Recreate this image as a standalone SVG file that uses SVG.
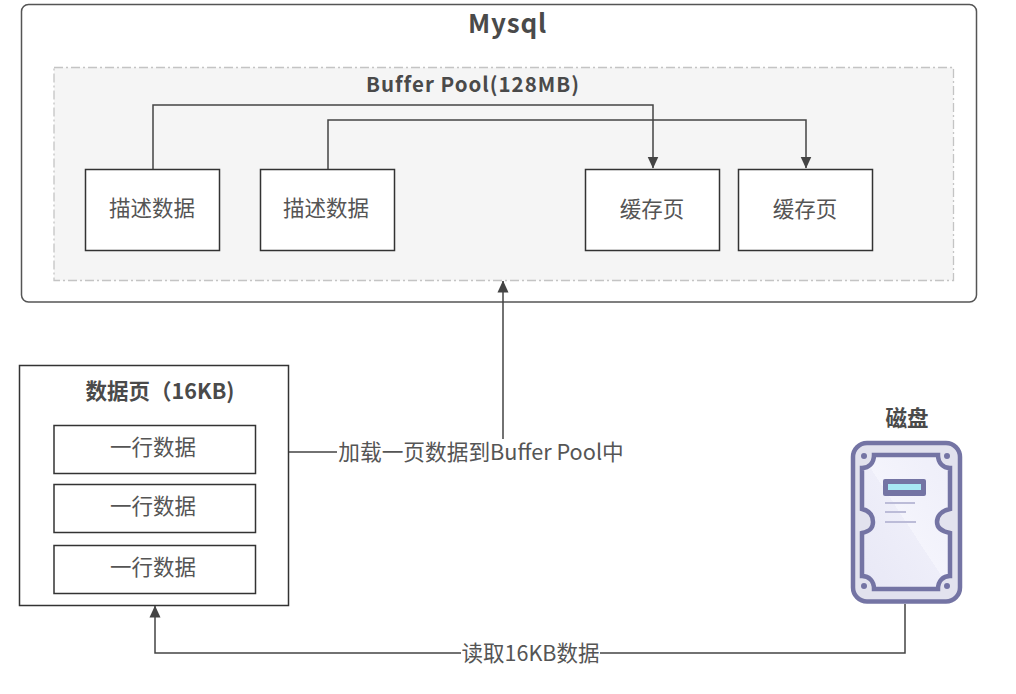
<svg xmlns="http://www.w3.org/2000/svg" width="1016" height="694" viewBox="0 0 1016 694">
<style>
text{font-family:"Noto Sans CJK SC","Noto Sans",sans-serif;fill:#555;text-anchor:middle}
.b{font-weight:700;fill:#4a4a4a}
.l{font-size:21.500px}
.box{fill:#fff;stroke:#333;stroke-width:1.500}
.c{fill:none;stroke:#444;stroke-width:1.500}
.d{stroke:#7474a4;stroke-width:4.500}
</style>
<defs>
<marker id="a" viewBox="0 0 12 12" refX="11.500" refY="6" markerWidth="12" markerHeight="12" markerUnits="userSpaceOnUse" orient="auto"><path d="M0 0.500L12 6L0 11.500Z" fill="#444"/></marker>
<linearGradient id="disk" x1="0" y1="1" x2="1" y2="0"><stop offset="0" stop-color="#e8e8f6"/><stop offset="0.500" stop-color="#eeeef9"/><stop offset="0.500" stop-color="#f4f4fc"/><stop offset="1" stop-color="#eeeef9"/></linearGradient>
</defs>
<rect width="1016" height="694" fill="#fff"/>
<g id="mysql">
<rect x="21.500" y="4.500" width="955" height="297.500" rx="7" fill="#fff" stroke="#555" stroke-width="1.500"/>
<text class="b" x="507.500" y="33" font-size="26" letter-spacing="0.800">Mysql</text>
</g>
<g id="buffer-pool">
<rect x="54" y="67.500" width="899.500" height="213" fill="#f5f5f5" stroke="#c4c4c4" stroke-width="1.300" stroke-dasharray="9 3 2 3"/>
<text class="b" x="473" y="92" font-size="20.500" letter-spacing="1">Buffer Pool(128MB)</text>
</g>
<g id="desc1"><rect class="box" x="85.500" y="169.500" width="134" height="81"/><text class="l" x="152" y="216">描述数据</text></g>
<g id="desc2"><rect class="box" x="260.500" y="169.500" width="134" height="81"/><text class="l" x="326" y="216">描述数据</text></g>
<g id="cache1"><rect class="box" x="585.500" y="169.500" width="134" height="81"/><text class="l" x="652" y="217">缓存页</text></g>
<g id="cache2"><rect class="box" x="738.500" y="169.500" width="134" height="81"/><text class="l" x="805" y="217">缓存页</text></g>
<g id="data-page">
<rect class="box" x="19.500" y="365.500" width="269" height="240"/>
<text class="b l" x="160" y="399">数据页（16KB)</text>
</g>
<g id="row1"><rect class="box" x="54" y="425.500" width="201.500" height="48"/><text class="l" x="153" y="455">一行数据</text></g>
<g id="row2"><rect class="box" x="54" y="484.500" width="201.500" height="48"/><text class="l" x="153" y="514">一行数据</text></g>
<g id="row3"><rect class="box" x="54" y="545.500" width="201.500" height="48"/><text class="l" x="153" y="575">一行数据</text></g>
<g id="disk">
<text class="b" x="907" y="426" font-size="21.500">磁盘</text>
<rect class="d" x="853" y="443" width="107" height="158.500" rx="14" fill="#e2e2ee"/>
<path class="d" fill="url(#disk)" d="M874 455H938C938 463 943 468 950 468V509C940 511 937 517 937 522C937 527 940 531 950 533V576C943 576 938 581 938 589H874C874 581 869 576 862 576V533C871 531 873 527 873 522C873 517 871 511 862 509V468C869 468 874 463 874 455Z"/>
<circle cx="864" cy="456" r="3" fill="#7474a4"/><circle cx="947" cy="456" r="3" fill="#7474a4"/>
<circle cx="864" cy="586" r="3" fill="#7474a4"/><circle cx="947" cy="586" r="3" fill="#7474a4"/>
<rect x="883" y="479" width="43" height="17" rx="2" fill="#7474a4"/>
<rect x="888" y="484" width="33" height="6" fill="#a8e8f4"/>
<path d="M885 503H915M885 512H906M885 522H916" stroke="#bcbcd8" stroke-width="2" fill="none"/>
</g>
<g id="connectors">
<path class="c" marker-end="url(#a)" d="M153 169V105H653V168"/>
<path class="c" marker-end="url(#a)" d="M328 169V120H806V168"/>
<path class="c" marker-end="url(#a)" d="M289 452H503V281"/>
<path class="c" marker-end="url(#a)" d="M905 604V653H155V606"/>
<rect x="337" y="439" width="288" height="27" fill="#fff"/>
<text x="481" y="460" font-size="21.700">加载一页数据到Buffer Pool中</text>
<rect x="461" y="640" width="139" height="26" fill="#fff"/>
<text x="530.500" y="661" class="l">读取16KB数据</text>
</g>
</svg>
